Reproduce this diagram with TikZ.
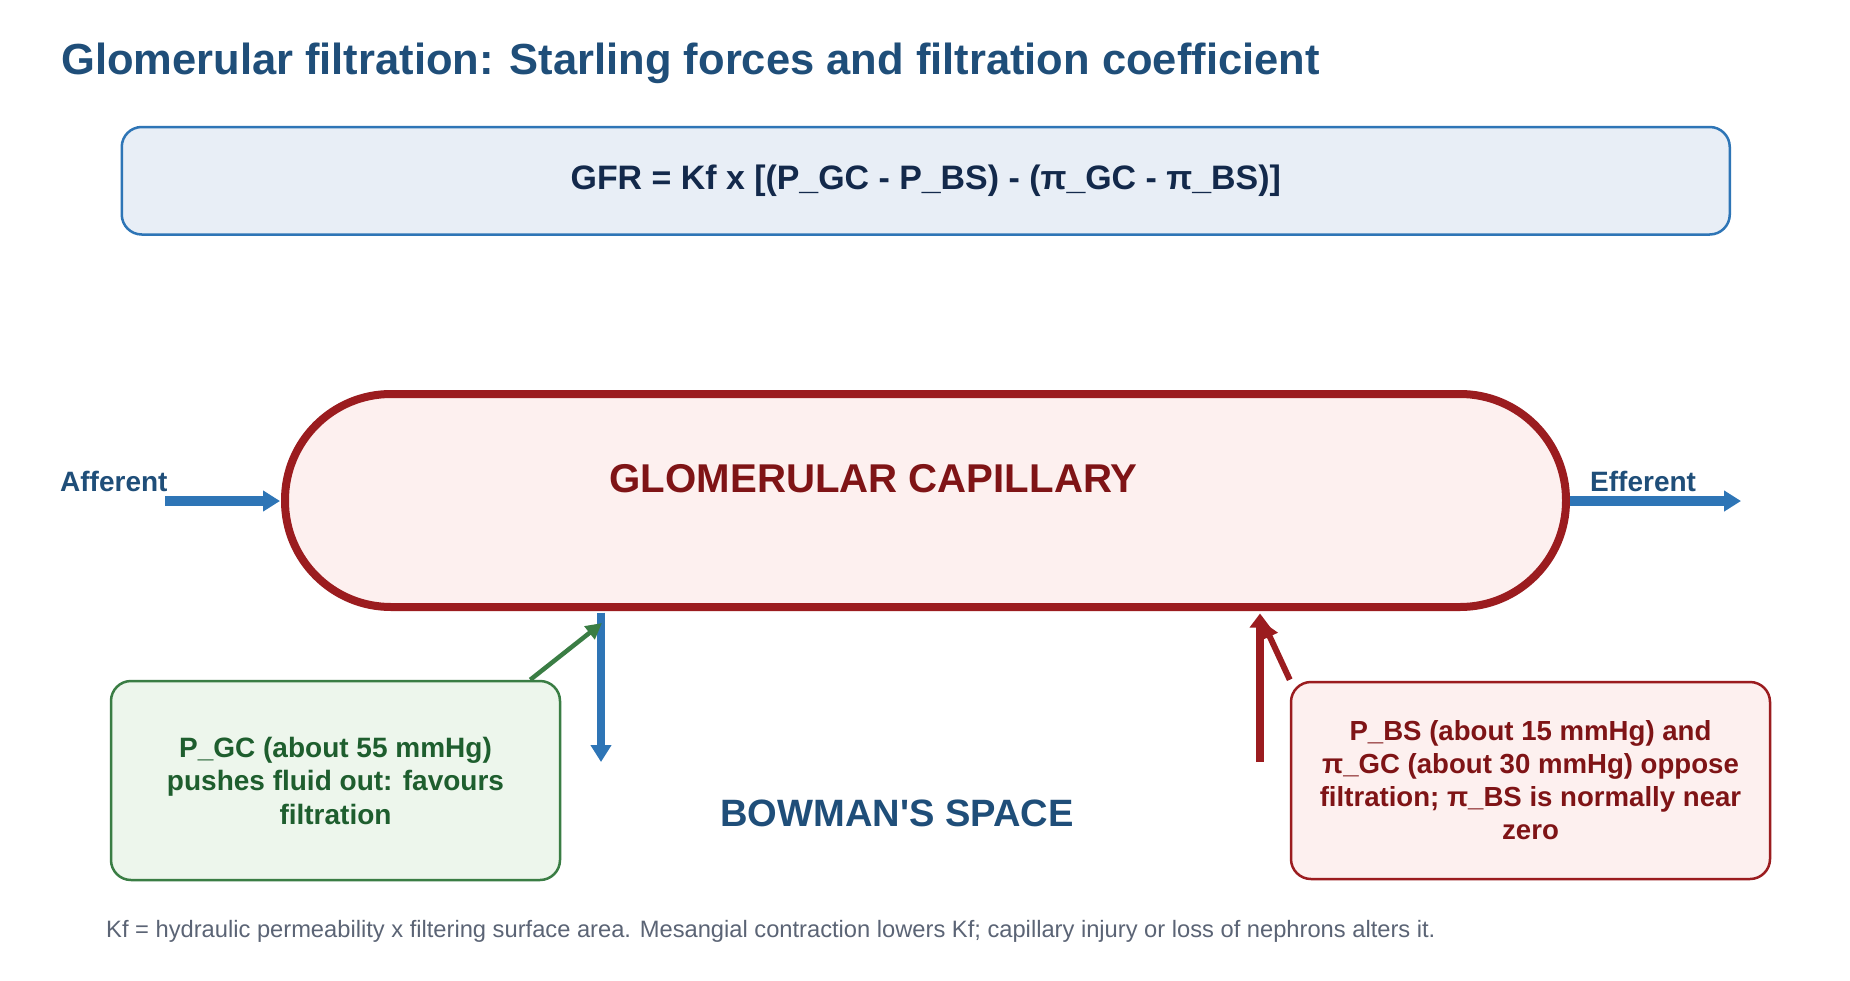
\documentclass[tikz,border=0pt]{standalone}
\usepackage{fontspec}
\setmainfont{Liberation Sans}[Ligatures=TeXOff]
\usetikzlibrary{arrows.meta,calc}
\definecolor{titleblue}{HTML}{1F4E79}
\definecolor{flowblue}{HTML}{2E75B6}
\definecolor{formfill}{HTML}{E8EEF6}
\definecolor{formtext}{HTML}{13294B}
\definecolor{capred}{HTML}{9B1C1F}
\definecolor{capfill}{HTML}{FDF0EF}
\definecolor{captext}{HTML}{7F1416}
\definecolor{gdraw}{HTML}{3A7D44}
\definecolor{gfill}{HTML}{EDF6EC}
\definecolor{gtext}{HTML}{1E5E2E}
\definecolor{foottext}{HTML}{5B6475}
\newcommand\myfs[2]{\fontsize{#1}{#2}\selectfont}
\tikzset{
  lbl/.style={inner sep=0pt},
  infobox/.style={line width=2.5pt, rounded corners=20pt, inner sep=0pt, align=center},
  flowarrow/.style={draw=flowblue, line width=10pt, -{Triangle[length=17pt,width=20pt]}},
  bsarrow/.style={draw=flowblue, line width=8pt, -{Triangle[length=17pt,width=20pt]}},
  redup/.style={draw=capred, line width=8pt, -{Triangle[length=14pt,width=20pt]}},
  reddiag/.style={draw=capred, line width=6pt, -{Triangle[length=16pt,width=17pt]}},
  greendiag/.style={draw=gdraw, line width=4.5pt, -{Triangle[length=16pt,width=16pt]}}
}
\begin{document}
\begin{tikzpicture}[x=1pt,y=-1pt]
\useasboundingbox (0,0) rectangle (1850,980);
\fill[white] (0,0) rectangle (1850,980);

% title
\node[lbl, anchor=base west, text=titleblue, font=\myfs{43.5}{52}\bfseries] (title) at (61,74)
  {Glomerular filtration: Starling forces and filtration coefficient};

% formula box
\node[infobox, draw=flowblue, fill=formfill, minimum width=1608pt, minimum height=107.5pt,
      text=formtext, font=\myfs{33.9}{40}\bfseries] (formula) at (925.75,180.75)
  {GFR = Kf x [(P\_GC - P\_BS) - (π\_GC - π\_BS)]};

% capillary
\node[draw=capred, fill=capfill, line width=8pt, rounded corners=106pt,
      minimum width=1281pt, minimum height=213pt, inner sep=0pt] (cap) at (925.5,500.5) {};
\node[lbl, anchor=base west, text=captext, font=\myfs{40.2}{48}\bfseries] (captxt) at (609.5,492)
  {GLOMERULAR CAPILLARY};

% afferent / efferent
\node[lbl, anchor=base west, text=titleblue, font=\myfs{28}{33}\bfseries] (aff) at (60,491) {Afferent};
\node[lbl, anchor=base west, text=titleblue, font=\myfs{28}{33}\bfseries] (eff) at (1590,491) {Efferent};
\coordinate (affstart) at (165,501);
\coordinate (effend) at (1741,501);
\draw[flowarrow, shorten >=1pt] (affstart) -- (affstart -| cap.west);
\draw[flowarrow] (effend -| cap.east) -- (effend);

% Bowman's space
\node[lbl, anchor=base, text=titleblue, font=\myfs{38.1}{46}\bfseries] (bowman) at (897,826)
  {BOWMAN\textquotesingle S SPACE};

% green box
\node[infobox, draw=gdraw, fill=gfill, minimum width=449pt, minimum height=199pt,
      text=gtext, font=\myfs{28}{33.5}\bfseries] (gbox) at (335.5,780.5)
  {P\_GC (about 55 mmHg)\\pushes fluid out: favours\\filtration};

% red box
\node[infobox, draw=capred, fill=capfill, minimum width=479pt, minimum height=197pt,
      text=captext, font=\myfs{27.6}{33}\bfseries] (rbox) at (1530.5,780.5)
  {P\_BS (about 15 mmHg) and\\π\_GC (about 30 mmHg) oppose\\filtration; π\_BS is normally near\\zero};

% footer
\node[lbl, anchor=base west, text=foottext, font=\myfs{23.7}{28}] (foot) at (106,937)
  {Kf = hydraulic permeability x filtering surface area. Mesangial contraction lowers Kf; capillary injury or loss of nephrons alters it.};

% connectors
\coordinate (bsend) at (601,762);
\draw[bsarrow, shorten <=1.5pt] (cap.south -| bsend) -- (bsend);
\coordinate (gtip) at (602,623);
\draw[greendiag] ($(gbox.north east)+(-31,0)$) -- (gtip);
\coordinate (rvbot) at (1260,762);
\draw[redup, shorten >=2.5pt] (rvbot) -- (rvbot |- cap.south);
\coordinate (rtip) at (1263,622);
\draw[reddiag] ($(rbox.north west)+(0,-1)$) -- (rtip);
\end{tikzpicture}
\end{document}
